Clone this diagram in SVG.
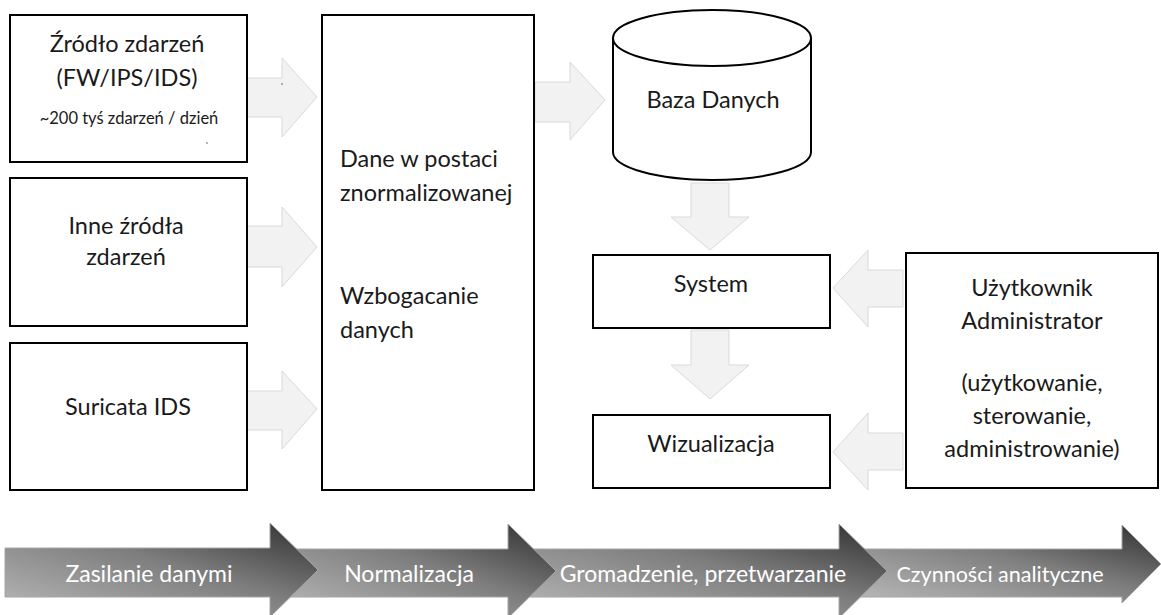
<svg xmlns="http://www.w3.org/2000/svg" width="1161" height="615" viewBox="0 0 1161 615">
<defs>
<style>
.box{fill:#fff;stroke:#000;stroke-width:2}
.conn{fill:#f2f2f2;stroke:#d9d9d9;stroke-width:1}
.t{font-family:Lato,"Open Sans",sans-serif;font-size:23.5px;fill:#1a1a1a}
.tc{text-anchor:middle}
.small{font-size:16.5px}
.bt{font-family:Lato,"Open Sans",sans-serif;font-size:23px;fill:#fff;text-anchor:middle}
.stage{stroke:#a6a6a6;stroke-width:1;fill:url(#g)}
</style>
<linearGradient id="g" x1="0" y1="1" x2="1" y2="0">
<stop offset="0" stop-color="#bababa"/>
<stop offset="0.55" stop-color="#7d7d7d"/>
<stop offset="1" stop-color="#2e2e2e"/>
</linearGradient>
</defs>
<rect width="1161" height="615" fill="#fff"/>

<g id="connectors">
<polygon class="conn" points="247,78 282,78 282,58 317,97 282,137 282,117 247,117"/>
<polygon class="conn" points="247,226 282,226 282,207 317,247 282,287 282,267 247,267"/>
<polygon class="conn" points="247,391 282,391 282,371 317,409 282,449 282,430 247,430"/>
<polygon class="conn" points="535,82 570,82 570,62 605,100 570,140 570,122 535,122"/>
<polygon class="conn" points="691,183 729,183 729,217 749,217 710,250 671,217 691,217"/>
<polygon class="conn" points="691,330 729,330 729,365 749,365 710,399 671,365 691,365"/>
<polygon class="conn" points="903,270 868,270 868,250 833,288 868,327 868,307 903,307"/>
<polygon class="conn" points="903,433 868,433 868,413 833,452 868,490 868,470 903,470"/>
</g>

<g id="n1">
<rect class="box" x="10" y="15" width="237" height="147"/>
<text class="t tc" x="127" y="52">Źródło zdarzeń</text>
<text class="t tc" x="127" y="86">(FW/IPS/IDS)</text>
<text class="t tc small" x="129" y="124">~200 tyś zdarzeń / dzień</text>
<circle cx="207" cy="143" r="0.7" fill="#333"/>
<circle cx="282" cy="84" r="0.7" fill="#333"/>
</g>
<g id="n2">
<rect class="box" x="10" y="178" width="237" height="148"/>
<text class="t tc" x="126" y="234">Inne źródła</text>
<text class="t tc" x="126" y="265">zdarzeń</text>
</g>
<g id="n3">
<rect class="box" x="10" y="343" width="237" height="147"/>
<text class="t tc" x="128" y="415">Suricata IDS</text>
</g>
<g id="n4">
<rect class="box" x="322" y="15" width="212" height="475"/>
<text class="t" x="340" y="167">Dane w postaci</text>
<text class="t" x="340" y="201">znormalizowanej</text>
<text class="t" x="340" y="304">Wzbogacanie</text>
<text class="t" x="340" y="338">danych</text>
</g>
<g id="n5">
<path class="box" d="M613,38 L613,152 A99,28 0 0 0 811,152 L811,38 A99,28 0 0 0 613,38 Z"/>
<path d="M613,38 A99,28 0 0 0 811,38" fill="none" stroke="#000" stroke-width="2"/>
<text class="t tc" x="713" y="108">Baza Danych</text>
</g>
<g id="n6">
<rect class="box" x="593" y="255" width="237" height="73"/>
<text class="t tc" x="711" y="292">System</text>
</g>
<g id="n7">
<rect class="box" x="593" y="415" width="237" height="73"/>
<text class="t tc" x="711" y="452">Wizualizacja</text>
</g>
<g id="n8">
<rect class="box" x="906" y="253" width="252" height="235"/>
<text class="t tc" x="1032" y="296">Użytkownik</text>
<text class="t tc" x="1032" y="329">Administrator</text>
<text class="t tc" x="1032" y="391">(użytkowanie,</text>
<text class="t tc" x="1032" y="424">sterowanie,</text>
<text class="t tc" x="1032" y="457">administrowanie)</text>
</g>

<g id="stages">
<g id="s4">
<polygon class="stage" points="860,549 1122,549 1122,525 1161,564 1122,603 1122,597 860,597"/>
<text class="bt" x="1000" y="582" style="font-size:21.5px">Czynności analityczne</text>
</g>
<g id="s3">
<polygon class="stage" points="530,549 839,549 839,524 887,571 839,618 839,597 530,597"/>
<text class="bt" x="703" y="582">Gromadzenie, przetwarzanie</text>
</g>
<g id="s2">
<polygon class="stage" points="290,549 508,549 508,524 556,571 508,618 508,597 290,597"/>
<text class="bt" x="409" y="582">Normalizacja</text>
</g>
<g id="s1">
<polygon class="stage" points="5,548 270,548 270,523 318,570 270,617 270,597 5,597"/>
<text class="bt" x="149" y="582">Zasilanie danymi</text>
</g>
</g>
</svg>
